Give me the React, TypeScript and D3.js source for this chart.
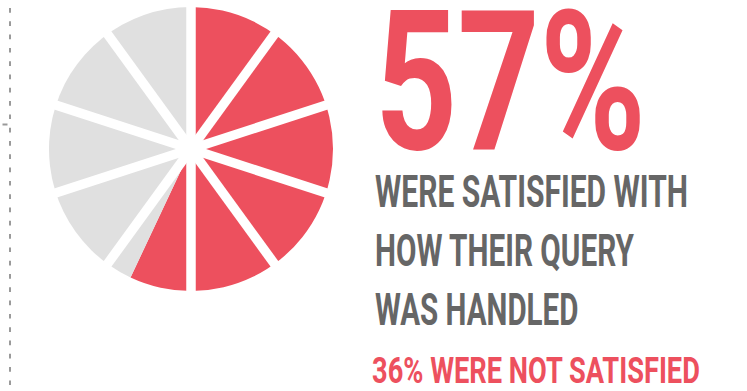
import React, { useLayoutEffect, useRef, useState } from "react";
import * as d3 from "d3";

const categories = ["Satisfied", "Other"];
const shares = [57, 43];
const headline = "57%";
const bodyLines = ["WERE SATISFIED WITH", "HOW THEIR QUERY", "WAS HANDLED"];
const footnote = "36% WERE NOT SATISFIED";
const spokeCount = 10;

const W = 747;
const H = 391;
const RED = "#ED505E";
const GRAY = "#E0E0E0";
const TEXT = "#666666";
const FONT = "Roboto, 'Liberation Sans', sans-serif";

function FitText(props: { x: number; y: number; width: number; size: number; fill: string; children: string }) {
  const ref = useRef<SVGTextElement>(null);
  const [sx, setSx] = useState(1);
  useLayoutEffect(() => {
    if (ref.current) {
      const len = ref.current.getComputedTextLength();
      if (len > 0) setSx(props.width / len);
    }
  }, [props.width, props.children]);
  return (
    <text
      ref={ref}
      transform={`translate(${props.x},${props.y}) scale(${sx},1)`}
      fontFamily={FONT}
      fontWeight={700}
      fontSize={props.size}
      fill={props.fill}
    >
      {props.children}
    </text>
  );
}

export default function App() {
  const cx = 191;
  const cy = 149;
  const r = 142;
  const pie = d3.pie<number>().sort(null).value((d) => d)(shares);
  const arc = d3.arc<d3.PieArcDatum<number>>().innerRadius(0).outerRadius(r);
  const colors = d3.scaleOrdinal<string, string>().domain(categories).range([RED, GRAY]);
  const angle = d3.scaleLinear().domain([0, spokeCount]).range([0, 2 * Math.PI]);
  const spokes = d3.range(spokeCount / 2);

  const lineY = [207, 265.5, 325];
  const lineW = [313, 259, 203.5];

  return (
    <svg width={W} height={H} style={{ position: "absolute", left: 0, top: 0 }}>
      <rect width={W} height={H} fill="#fff" />
      <line x1={10} x2={10} y1={0} y2={H} stroke="#9a9a9a" strokeWidth={2} strokeDasharray="4.7 8.6" strokeDashoffset={-8} />
      <line x1={2.5} x2={7.5} y1={124.5} y2={124.5} stroke="#9a9a9a" strokeWidth={2} />
      <g transform={`translate(${cx},${cy})`}>
        {pie.map((p, i) => (
          <path key={i} d={arc(p) || ""} fill={colors(categories[i])} />
        ))}
        {spokes.map((i) => {
          const a = angle(i);
          const x = Math.sin(a) * (r + 2);
          const y = -Math.cos(a) * (r + 2);
          return <line key={i} x1={-x} y1={-y} x2={x} y2={y} stroke="#fff" strokeWidth={9.5} />;
        })}
      </g>
      <FitText x={375} y={149} width={271} size={195} fill={RED}>{headline}</FitText>
      {bodyLines.map((t, i) => (
        <FitText key={t} x={375} y={lineY[i]} width={lineW[i]} size={45} fill={TEXT}>{t}</FitText>
      ))}
      <FitText x={372} y={383} width={328} size={37.5} fill={RED}>{footnote}</FitText>
    </svg>
  );
}
